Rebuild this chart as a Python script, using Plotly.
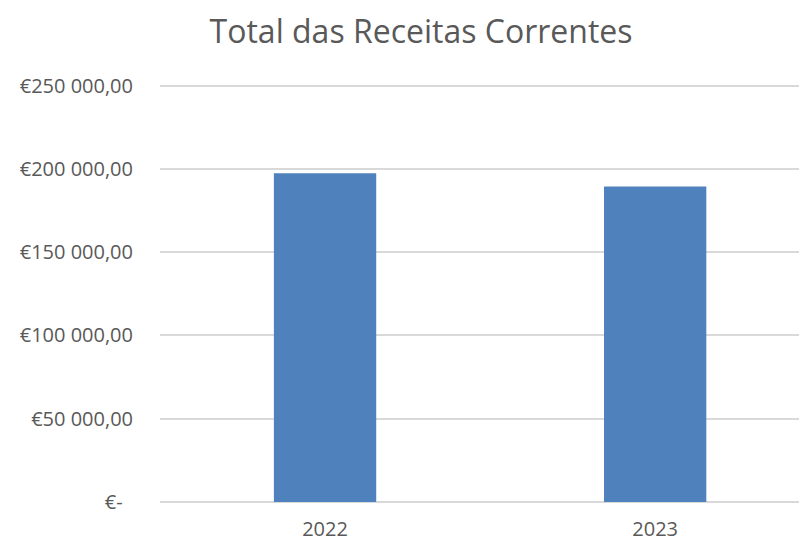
import plotly.graph_objects as go

years = ["2022", "2023"]
receitas = [197400, 189500]

y_ticks = [0, 50000, 100000, 150000, 200000, 250000]
y_labels = ["€-  ", "€50 000,00", "€100 000,00", "€150 000,00", "€200 000,00", "€250 000,00"]

fig = go.Figure()
fig.add_trace(go.Bar(
    x=years,
    y=receitas,
    marker=dict(color="#4f81bd", line=dict(width=0)),
    width=0.31,
))

# page has an 8px body margin, so the figure is drawn a bit smaller
fig.update_layout(
    width=799,
    height=534,
    margin=dict(l=152, r=0, t=76, b=40, autoexpand=False),
    paper_bgcolor="white",
    plot_bgcolor="white",
    font=dict(family="Open Sans", color="#595959", size=19),
    title=dict(
        text="Total das Receitas Correntes",
        x=0.517,
        xanchor="center",
        y=0.955,
        yanchor="middle",
        font=dict(size=32, color="#595959"),
    ),
    showlegend=False,
    xaxis=dict(
        type="category",
        range=[-0.5, 1.46],
        showgrid=False,
        showline=False,
        ticks="",
        automargin=False,
        ticklabelstandoff=13,
        tickfont=dict(size=20),
    ),
    yaxis=dict(
        range=[0, 251000],
        tickvals=y_ticks,
        ticktext=y_labels,
        showgrid=True,
        gridcolor="#d9d9d9",
        gridwidth=1.5,
        zeroline=True,
        zerolinecolor="#d9d9d9",
        zerolinewidth=1.5,
        ticks="",
        automargin=False,
        ticklabelstandoff=26,
        tickfont=dict(size=20),
    ),
)

fig.write_html("out.html")
